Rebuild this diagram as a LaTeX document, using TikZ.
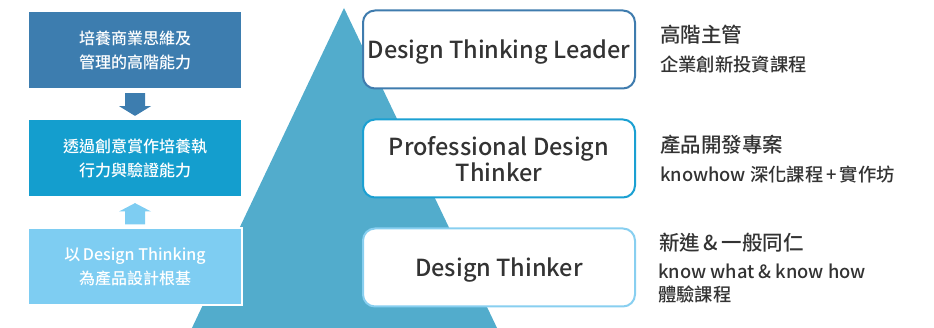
\documentclass[tikz,border=0pt]{standalone}
\usepackage{fontspec}
\setmainfont{Noto Sans CJK TC Medium}
\usetikzlibrary{calc}
\definecolor{cA}{HTML}{3D7DAF}
\definecolor{cB}{HTML}{149ECE}
\definecolor{cC}{HTML}{7ECDF2}
\definecolor{pyr}{HTML}{52ACCC}
\definecolor{bA}{HTML}{3F7CAE}
\definecolor{bB}{HTML}{1BA0D2}
\definecolor{bC}{HTML}{88CFF0}
\definecolor{txt}{HTML}{333333}
\tikzset{
  lbox/.style={draw=white, line width=1.2pt, minimum width=214pt, minimum height=77pt, inner sep=0pt,
    align=center, text=white, font=\fontsize{16}{24}\selectfont},
  rbox/.style={fill=white, line width=2pt, rounded corners=12pt, minimum width=272pt, minimum height=78pt,
    inner sep=0pt, align=center, text=txt, text depth=0pt, font=\fontsize{23.5}{26}\selectfont},
  head/.style={anchor=west, inner sep=0pt, text=txt, font=\fontsize{20.5}{22}\selectfont},
  sub/.style={anchor=west, inner sep=0pt, text=txt, align=left, font=\fontsize{18.3}{23}\selectfont},
}
\begin{document}
\begin{tikzpicture}[x=1pt,y=-1pt]
\useasboundingbox (0,0) rectangle (934,328);
% pyramid
\fill[pyr] (344,8) -- (498,330) -- (191,330) -- cycle;
% left boxes
\node[lbox, fill=cA] (l1) at (135,50) {培養商業思維及\\管理的高階能力};
\node[lbox, fill=cB] (l2) at (135,158) {透過創意賞作培養執\\行力與驗證能力};
\node[lbox, fill=cC, line width=2pt] (l3) at (135,267) {以\,Design Thinking\\為產品設計根基};
% arrows
\fill[cA] ($(l1.south)+(-10,4)$) -- ($(l1.south)+(10,4)$) -- ($(l1.south)+(10,17)$) -- ($(l1.south)+(16,17)$)
  -- ($(l2.north)+(0,-3)$) -- ($(l1.south)+(-16,17)$) -- ($(l1.south)+(-10,17)$) -- cycle;
\fill[cC] ($(l3.north)+(-10,-3)$) -- ($(l3.north)+(10,-3)$) -- ($(l3.north)+(10,-16)$) -- ($(l3.north)+(16,-16)$)
  -- ($(l2.south)+(0,6)$) -- ($(l3.north)+(-16,-16)$) -- ($(l3.north)+(-10,-16)$) -- cycle;
% right boxes
\node[rbox, draw=bA] (r1) at (499,49.5) {Design Thinking Leader};
\node[rbox, draw=bB] (r2) at (499,158.5) {Professional Design\\Thinker};
\node[rbox, draw=bC] (r3) at (499,267.5) {Design Thinker};
% right texts
\node[head] (h1) at (660,35) {高階主管};
\node[sub] (s1) at (660,64) {企業創新投資課程};
\node[head] (h2) at (660,145) {產品開發專案};
\node[sub] (s2) at (660,175) {knowhow 深化課程\,+\,實作坊};
\node[head] (h3) at (659,243) {新進\,\&\,一般同仁};
\node[sub] (s3) at (658,283.5) {know what \& know how\\體驗課程};
\end{tikzpicture}
\end{document}
